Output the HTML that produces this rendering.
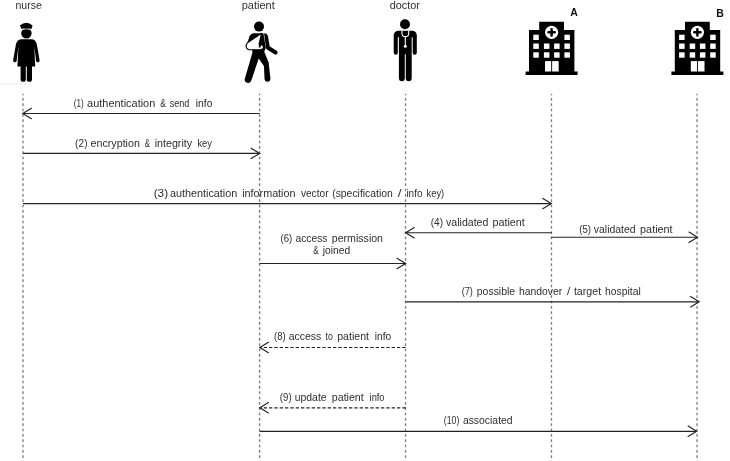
<!DOCTYPE html>
<html><head><meta charset="utf-8"><title>Sequence diagram</title>
<style>
html,body{margin:0;padding:0;background:#fff;}
body{width:730px;height:461px;overflow:hidden;}
svg{display:block;will-change:transform;}
text{font-family:"Liberation Sans",sans-serif;font-size:11.5px;fill:#2e2e2e;}
.b{font-weight:bold;fill:#111;font-size:10.5px;}
.ll{stroke:#7a7a7a;stroke-width:1.3;stroke-dasharray:2.667 2.667;stroke-dashoffset:1.07;fill:none;}
.ar{stroke:#222;stroke-width:1.15;fill:none;}
.da{stroke:#222;stroke-width:1.15;fill:none;stroke-dasharray:3.3 2.03;}
.hd{stroke:#222;stroke-width:1.15;fill:none;stroke-linecap:round;stroke-linejoin:miter;}
</style></head><body>
<svg width="730" height="461" viewBox="0 0 730 461">
<rect width="730" height="461" fill="#fff"/>
<!-- lifelines -->
<line class="ll" x1="23" y1="93.7" x2="23" y2="461"/>
<line class="ll" x1="259.6" y1="93.7" x2="259.6" y2="461"/>
<line class="ll" x1="405.5" y1="93.7" x2="405.5" y2="461"/>
<line class="ll" x1="551.5" y1="93.7" x2="551.5" y2="461"/>
<line class="ll" x1="697.05" y1="93.7" x2="697.05" y2="461"/>
<line x1="0" y1="83.9" x2="27.5" y2="83.9" stroke="#e4e4e4" stroke-width="1" stroke-dasharray="3 1"/>
<line x1="260.9" y1="78" x2="260.9" y2="84" stroke="#e2e2e2" stroke-width="1" stroke-dasharray="1.2 1.4"/>
<!-- headers -->
<text x="15.5" y="9.3" textLength="26.33" lengthAdjust="spacingAndGlyphs">nurse</text>
<text x="241.7" y="9.3" textLength="33.13" lengthAdjust="spacingAndGlyphs">patient</text>
<text x="389.7" y="9.3" textLength="30.32" lengthAdjust="spacingAndGlyphs">doctor</text>
<text class="b" x="570.2" y="16.3">A</text>
<text class="b" x="716.2" y="16.6">B</text>
<!-- arrows -->
<g id="arrows">
<line class="ar" x1="259.6" y1="113.5" x2="23.3" y2="113.5"/>
<polyline class="hd" points="31.4,108.3 22.8,113.5 31.4,118.7"/>
<line class="ar" x1="23" y1="153.4" x2="259.2" y2="153.4"/>
<polyline class="hd" points="251.1,148.2 259.7,153.4 251.1,158.6"/>
<line class="ar" x1="23" y1="203.6" x2="550.9" y2="203.6"/>
<polyline class="hd" points="542.8,198.4 551.4,203.6 542.8,208.8"/>
<line class="ar" x1="551.6" y1="232.7" x2="406.2" y2="232.7"/>
<polyline class="hd" points="414.3,227.5 405.7,232.7 414.3,237.9"/>
<line class="ar" x1="551.1" y1="237.2" x2="697.0" y2="237.2"/>
<polyline class="hd" points="688.9,232.0 697.5,237.2 688.9,242.4"/>
<line class="ar" x1="259.6" y1="263.5" x2="405.1" y2="263.5"/>
<polyline class="hd" points="397.0,258.3 405.6,263.5 397.0,268.7"/>
<line class="ar" x1="405.5" y1="301.8" x2="698.7" y2="301.8"/>
<polyline class="hd" points="690.6,296.6 699.2,301.8 690.6,307.0"/>
<line class="da" x1="405.6" y1="347.5" x2="260.3" y2="347.5"/>
<polyline class="hd" points="268.4,342.3 259.8,347.5 268.4,352.7"/>
<line class="da" x1="405.6" y1="407.8" x2="260.3" y2="407.8"/>
<polyline class="hd" points="268.4,402.6 259.8,407.8 268.4,413.0"/>
<line class="ar" x1="259.6" y1="431.3" x2="696.2" y2="431.3"/>
<polyline class="hd" points="688.1,426.1 696.7,431.3 688.1,436.5"/>
</g>
<!-- labels -->
<g id="labels">
<text y="106.8"><tspan x="73.7" textLength="9.94" lengthAdjust="spacingAndGlyphs">(1)</tspan> <tspan x="87.1" textLength="68.2" lengthAdjust="spacingAndGlyphs">authentication</tspan> <tspan x="160.2" textLength="5.79" lengthAdjust="spacingAndGlyphs">&amp;</tspan> <tspan x="169.7" textLength="19.72" lengthAdjust="spacingAndGlyphs">send</tspan> <tspan x="195.7" textLength="16.72" lengthAdjust="spacingAndGlyphs">info</tspan></text>
<text y="146.6"><tspan x="75.1" textLength="12.42" lengthAdjust="spacingAndGlyphs">(2)</tspan> <tspan x="90.5" textLength="49.4" lengthAdjust="spacingAndGlyphs">encryption</tspan> <tspan x="144.8" textLength="5.27" lengthAdjust="spacingAndGlyphs">&amp;</tspan> <tspan x="154.7" textLength="37.44" lengthAdjust="spacingAndGlyphs">integrity</tspan> <tspan x="197.4" textLength="14.5" lengthAdjust="spacingAndGlyphs">key</tspan></text>
<text y="196.9"><tspan x="153.7" textLength="14.42" lengthAdjust="spacingAndGlyphs">(3)</tspan> <tspan x="169.9" textLength="67.42" lengthAdjust="spacingAndGlyphs">authentication</tspan> <tspan x="242.2" textLength="53.31" lengthAdjust="spacingAndGlyphs">information</tspan> <tspan x="300.9" textLength="27.65" lengthAdjust="spacingAndGlyphs">vector</tspan> <tspan x="332.2" textLength="60.61" lengthAdjust="spacingAndGlyphs">(specification</tspan> <tspan x="397.7" textLength="3.78" lengthAdjust="spacingAndGlyphs">/</tspan> <tspan x="406.4" textLength="16.04" lengthAdjust="spacingAndGlyphs">info</tspan> <tspan x="426.5" textLength="17.72" lengthAdjust="spacingAndGlyphs">key)</tspan></text>
<text y="226.0"><tspan x="430.7" textLength="12.35" lengthAdjust="spacingAndGlyphs">(4)</tspan> <tspan x="446.1" textLength="42.22" lengthAdjust="spacingAndGlyphs">validated</tspan> <tspan x="492.5" textLength="32.35" lengthAdjust="spacingAndGlyphs">patient</tspan></text>
<text y="232.6"><tspan x="579.2" textLength="11.93" lengthAdjust="spacingAndGlyphs">(5)</tspan> <tspan x="593.8" textLength="41.83" lengthAdjust="spacingAndGlyphs">validated</tspan> <tspan x="640.1" textLength="32.51" lengthAdjust="spacingAndGlyphs">patient</tspan></text>
<text y="241.9"><tspan x="280.5" textLength="11.73" lengthAdjust="spacingAndGlyphs">(6)</tspan> <tspan x="295.5" textLength="31.91" lengthAdjust="spacingAndGlyphs">access</tspan> <tspan x="331.8" textLength="51.22" lengthAdjust="spacingAndGlyphs">permission</tspan></text>
<text y="254.2"><tspan x="313.2" textLength="5.53" lengthAdjust="spacingAndGlyphs">&amp;</tspan> <tspan x="322.7" textLength="27.47" lengthAdjust="spacingAndGlyphs">joined</tspan></text>
<text y="294.5"><tspan x="461.7" textLength="11.22" lengthAdjust="spacingAndGlyphs">(7)</tspan> <tspan x="476.8" textLength="38.32" lengthAdjust="spacingAndGlyphs">possible</tspan> <tspan x="519.0" textLength="43.24" lengthAdjust="spacingAndGlyphs">handover</tspan> <tspan x="567.0" textLength="3.3" lengthAdjust="spacingAndGlyphs">/</tspan> <tspan x="573.9" textLength="27.24" lengthAdjust="spacingAndGlyphs">target</tspan> <tspan x="605.1" textLength="35.71" lengthAdjust="spacingAndGlyphs">hospital</tspan></text>
<text y="340.0"><tspan x="274.0" textLength="11.52" lengthAdjust="spacingAndGlyphs">(8)</tspan> <tspan x="288.7" textLength="32.51" lengthAdjust="spacingAndGlyphs">access</tspan> <tspan x="325.6" textLength="7.29" lengthAdjust="spacingAndGlyphs">to</tspan> <tspan x="337.2" textLength="31.83" lengthAdjust="spacingAndGlyphs">patient</tspan> <tspan x="374.7" textLength="16.46" lengthAdjust="spacingAndGlyphs">info</tspan></text>
<text y="400.7"><tspan x="279.8" textLength="11.8" lengthAdjust="spacingAndGlyphs">(9)</tspan> <tspan x="294.7" textLength="31.91" lengthAdjust="spacingAndGlyphs">update</tspan> <tspan x="331.8" textLength="31.94" lengthAdjust="spacingAndGlyphs">patient</tspan> <tspan x="369.6" textLength="14.93" lengthAdjust="spacingAndGlyphs">info</tspan></text>
<text y="423.7"><tspan x="443.8" textLength="15.52" lengthAdjust="spacingAndGlyphs">(10)</tspan> <tspan x="462.9" textLength="49.72" lengthAdjust="spacingAndGlyphs">associated</tspan></text>
</g>
<!-- icons -->
<g id="icons" fill="#000">
<!-- nurse -->
<g id="nurse">
<circle cx="26.4" cy="33.3" r="5.2"/>
<path d="M20.6,29.9 Q26.4,27.7 32.2,29.9" fill="none" stroke="#fff" stroke-width="0.8"/>
<path d="M19.9,25.4 Q26.3,20.3 32.6,25.4 L31.3,29 Q26.3,27.3 21.5,29 Z"/>
<path d="M22,39.3 H31.2 C34.2,39.3 36.2,41 36.9,44.6 L39.6,60.4 A1.8,1.8 0 0 1 36.1,61 L34.3,46 L35.2,66.4 H17.4 L18.5,46 L16.6,61 A1.8,1.8 0 0 1 13.1,60.4 L15.9,44.6 C16.6,41 18.8,39.3 22,39.3 Z"/>
<path d="M20.6,66 H25.8 V79.2 A2.6,2.6 0 0 1 20.6,79.2 Z"/>
<path d="M26.8,66 H32 V79.2 A2.6,2.6 0 0 1 26.8,79.2 Z"/>
</g>
<!-- patient -->
<g id="patient">
<circle cx="259" cy="26.6" r="5"/>
<path d="M253.5,33.2 L263.4,33.2 L265.8,47.5 L264.2,52 L252.3,52 L252.3,49 L246.5,45.5 L249.6,36 Q251,33.2 253.5,33.2 Z"/>
<path d="M264.4,33.2 Q267.6,33.4 268.1,37 L269.6,46.2 L276.7,50.8 A2,2 0 0 1 274.5,54.2 L266.2,48.9 L264.2,34.6 Z"/>
<path d="M253.2,50 L244.9,78.6 A3.35,3.35 0 0 0 251.3,80.6 L258.7,58.6 L263.9,66 L264.6,79.4 A2.95,2.95 0 0 0 270.45,79 L268.7,62.4 L263.5,50 Z"/>

<path d="M261.6,33.4 L247.4,42.8 Q245.3,46 246.6,48 Q247.5,49.7 249.5,49.7 L260.5,49.7 Q263.6,49.5 263.5,46.9 Q263.3,44.3 259,44.1 Z" fill="#fff" stroke="#000" stroke-width="1.1" stroke-linejoin="round"/>
<path d="M259,43.6 L261.2,44.4 L260.5,47.6 L258.8,47.4 Z"/>
</g>
<!-- doctor -->
<g id="doctor">
<circle cx="405" cy="24.2" r="5"/>
<path d="M398.3,30.7 H412.2 A4.6,4.6 0 0 1 416.8,35.3 V52.7 A2,2 0 0 1 412.7,52.7 V37.3 H411.7 V78.3 A2.85,2.85 0 0 1 405.8,78.3 V54.2 H404.8 V78.3 A2.95,2.95 0 0 1 398.9,78.3 V37.3 H397.8 V52.7 A2.05,2.05 0 0 1 393.7,52.7 V35.3 A4.6,4.6 0 0 1 398.3,30.7 Z"/>
<path d="M401.9,30.5 V33.2 A3.4,3.4 0 0 0 408.7,33.2 V30.5" fill="none" stroke="#fff" stroke-width="1.1"/>
<path d="M405.3,36.6 V45.5" fill="none" stroke="#fff" stroke-width="1.1"/>
<circle cx="405.3" cy="46.2" r="1.5" fill="#fff"/>
</g>
<!-- hospitals -->
<g id="hospA">
<path d="M539.2,21.8 H564 V29.9 H574.4 V71.5 H577.6 V75 H525.6 V71.5 H529 V29.9 H539.2 Z"/>
<circle cx="551.6" cy="32.3" r="6.6" fill="#fff"/>
<path d="M551.6,29.2 V35.4 M548.5,32.3 H554.7" fill="none" stroke="#000" stroke-width="2.5" stroke-linecap="round"/>
<g fill="#fff">
<rect x="533.3" y="34.7" width="5.5" height="5.3"/><rect x="564.4" y="34.7" width="5.5" height="5.3"/>
<rect x="533.3" y="43.5" width="5.5" height="5.4"/><rect x="543.9" y="43.5" width="5.5" height="5.4"/><rect x="554.1" y="43.5" width="5.5" height="5.4"/><rect x="564.4" y="43.5" width="5.5" height="5.4"/>
<rect x="533.3" y="52.3" width="5.5" height="5.4"/><rect x="543.9" y="52.3" width="5.5" height="5.4"/><rect x="554.1" y="52.3" width="5.5" height="5.4"/><rect x="564.4" y="52.3" width="5.5" height="5.4"/>
<rect x="545" y="61.1" width="6.2" height="10.4"/><rect x="552.1" y="61.1" width="6.6" height="10.4"/>
</g>
</g>
<use href="#hospA" x="145.8"/>
</g>
</svg>
</body></html>
